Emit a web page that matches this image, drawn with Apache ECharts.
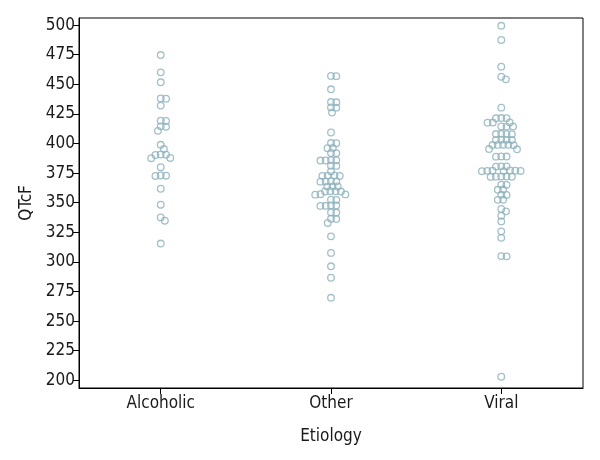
<!DOCTYPE html>
<html>
<head>
<meta charset="utf-8">
<script src="https://cdn.jsdelivr.net/npm/echarts@6/dist/echarts.min.js"></script>
<style>
html,body{margin:0;padding:0;background:#fff;}
#chart{width:600px;height:460px;}
</style>
</head>
<body>
<div id="chart"></div>
<script>
const categories = ['Alcoholic', 'Other', 'Viral'];
const alcoholic = [474.7, 460.1, 451.7, 438, 437.8, 432, 419.3, 419, 414.5, 414.2, 410.7, 398.9, 395.3,
  390.7, 390.5, 390.3, 387.8, 387.6, 380, 373, 372.8, 372.6, 361.8, 348.3, 337.6, 334.8, 315.5];
const other = [457.1, 456.9, 445.8, 435, 434.8, 430.5, 430.3, 426.1, 409.3, 400.4, 400.2, 396.2, 396,
  392, 391.8, 386, 385.9, 385.7, 385.6, 381.3, 381.1, 376.4, 373, 372.9, 372.7, 372.6,
  368.1, 368, 367.9, 367.8, 363.8, 363.7, 363.6, 359.7, 359.6, 359.5, 359.4, 357.2, 357, 356.8,
  352.6, 352.4, 347.7, 347.6, 347.4, 347.3, 341.9, 341.7, 336.4, 336.2, 332.9, 321.6, 307.6, 296.3, 286.6, 269.7];
const viral = [499.4, 487.4, 464.9, 456.4, 454.2, 430.3, 421.5, 421.4, 421.3, 417.8, 417.7, 417.6,
  414.4, 414.3, 414.2, 408.2, 408.1, 408, 407.9, 403.2, 403.1, 403, 402.9,
  399, 398.9, 398.8, 398.7, 398.6, 395.3, 395.1, 389.1, 389, 388.9, 380.7, 380.6, 380.5,
  377.2, 377.1, 377, 376.9, 376.8, 376.7, 376.6, 372.2, 372.1, 372, 371.9, 371.8,
  365.3, 365.1, 361.1, 360.9, 356.8, 356.6, 352.6, 352.4, 344.7, 342.7, 339, 334.2, 325.8, 320.3, 304.9, 304.7, 203];
const yTicks = [200, 225, 250, 275, 300, 325, 350, 375, 400, 425, 450, 475, 500];
const groups = [alcoholic, other, viral];

const FONT = '"Liberation Sans Narrow", "DejaVu Sans Condensed", "Roboto Condensed", sans-serif';
const chart = echarts.init(document.getElementById('chart'), null, {renderer: 'canvas'});

const baseOption = {
  animation: false,
  backgroundColor: '#ffffff',
  grid: {left: 79, right: 17, top: 18, bottom: 72, show: true, borderColor: '#000', borderWidth: 1, backgroundColor: 'transparent'},
  xAxis: {
    type: 'value', min: 0.52, max: 3.48,
    name: 'Etiology', nameLocation: 'middle', nameGap: 40,
    nameTextStyle: {fontFamily: FONT, fontSize: 17, color: '#1a1a1a'},
    axisLine: {show: true, lineStyle: {color: '#000', width: 1}},
    axisTick: {show: true, length: 6, customValues: [1, 2, 3], lineStyle: {color: '#000'}},
    axisLabel: {customValues: [1, 2, 3], formatter: v => categories[Math.round(v) - 1] || '', margin: 7,
      fontFamily: FONT, fontSize: 17, color: '#1a1a1a'},
    splitLine: {show: false}
  },
  yAxis: {
    type: 'value', min: 193.5, max: 506,
    name: 'QTcF', nameLocation: 'middle', nameGap: 38, nameRotate: 90,
    nameTextStyle: {fontFamily: FONT, fontSize: 17, color: '#1a1a1a'},
    axisLine: {show: true, lineStyle: {color: '#000', width: 1}},
    axisTick: {show: true, length: 6, customValues: yTicks, lineStyle: {color: '#000'}},
    axisLabel: {customValues: yTicks, margin: 4, fontFamily: FONT, fontSize: 17, color: '#1a1a1a'},
    splitLine: {show: false}
  },
  series: []
};
chart.setOption(baseOption);

// beeswarm layout computed in pixel space from the axes' own scales
const pxY = Math.abs(chart.convertToPixel({yAxisIndex: 0}, 300) - chart.convertToPixel({yAxisIndex: 0}, 400)) / 100;
const pxX = Math.abs(chart.convertToPixel({xAxisIndex: 0}, 2) - chart.convertToPixel({xAxisIndex: 0}, 1));
const D = 5.3;
function swarm(values) {
  const pts = values.map(v => ({v: v, y: v * pxY, x: 0})).sort((a, b) => b.y - a.y);
  const placed = [];
  pts.forEach(p => {
    const cands = [0];
    placed.forEach(q => {
      const dy = Math.abs(p.y - q.y);
      if (dy < D) {
        const dx = Math.sqrt(D * D - dy * dy);
        cands.push(q.x + dx, q.x - dx);
      }
    });
    cands.sort((a, b) => Math.abs(a) - Math.abs(b) || b - a);
    for (const c of cands) {
      let ok = true;
      for (const q of placed) {
        const dx = c - q.x, dy = p.y - q.y;
        if (dx * dx + dy * dy < D * D - 1e-6) { ok = false; break; }
      }
      if (ok) { p.x = c; break; }
    }
    placed.push(p);
  });
  return pts;
}

const series = groups.map((vals, gi) => ({
  type: 'scatter',
  name: categories[gi],
  symbol: 'circle',
  symbolSize: 6.6,
  itemStyle: {color: 'rgba(255,255,255,0)', borderColor: '#8cb0ba', borderWidth: 1.3},
  data: swarm(vals).map(p => [gi + 1 + p.x / pxX, p.v])
}));
chart.setOption({series: series});
</script>
</body>
</html>
